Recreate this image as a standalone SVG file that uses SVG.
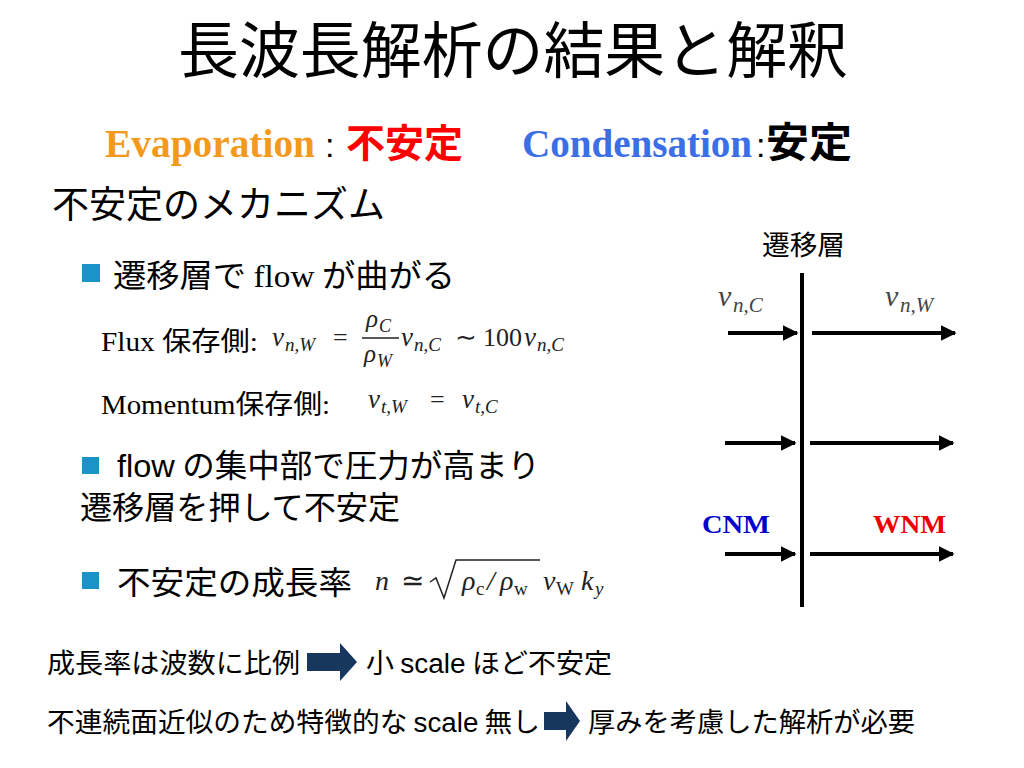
<svg xmlns="http://www.w3.org/2000/svg" width="1024" height="768" viewBox="0 0 1024 768">
<defs>
<style>
.jp{font-family:"Noto Sans CJK JP","Liberation Sans",sans-serif;fill:#000}
.sans{font-family:"Liberation Sans","Noto Sans CJK JP",sans-serif;fill:#000}
.ser{font-family:"Liberation Serif","Noto Sans CJK JP",serif;fill:#000}
.math{font-family:"Liberation Serif",serif;font-style:italic;fill:#222}
.mrm{font-family:"Liberation Serif",serif;font-style:normal;fill:#222}
.bul{fill:#1a94c8}
.ln{stroke:#000;stroke-width:4;fill:none}
.blk{fill:#17375e}
</style>
<marker id="ah" viewBox="0 0 10 10" refX="9" refY="5" markerWidth="4" markerHeight="4" orient="auto" markerUnits="strokeWidth">
<path d="M0,0 L10,5 L0,10 z" fill="#000"/>
</marker>
</defs>

<g id="title">
<text class="jp" x="178" y="73" font-size="61" textLength="670" lengthAdjust="spacingAndGlyphs">長波長解析の結果と解釈</text>
</g>

<g id="summary">
<text x="105" y="157" class="ser" font-size="40" font-weight="bold" style="fill:#f39a1e" textLength="210" lengthAdjust="spacingAndGlyphs">Evaporation</text>
<text x="325" y="157" class="sans" font-size="34">:</text>
<text x="346" y="157" class="jp" font-size="39" font-weight="bold" style="fill:#ff0000" textLength="117" lengthAdjust="spacingAndGlyphs">不安定</text>
<text x="522" y="157" class="ser" font-size="40" font-weight="bold" style="fill:#3c6ee6" textLength="230" lengthAdjust="spacingAndGlyphs">Condensation</text>
<text x="756" y="157" class="sans" font-size="34">:</text>
<text x="766" y="157" class="jp" font-size="41" font-weight="bold" textLength="86" lengthAdjust="spacingAndGlyphs">安定</text>
</g>

<g id="mechanism">
<text x="52" y="218" class="jp" font-size="37" textLength="333" lengthAdjust="spacingAndGlyphs">不安定のメカニズム</text>
</g>

<g id="bullet1">
<rect class="bul" x="82" y="264" width="18" height="18"/>
<text x="113" y="287" class="jp" font-size="32" textLength="342" lengthAdjust="spacingAndGlyphs">遷移層で <tspan class="ser">flow</tspan> が曲がる</text>
</g>

<g id="flux">
<text x="101" y="351" class="ser" font-size="27" textLength="157" lengthAdjust="spacingAndGlyphs">Flux 保存側:</text>
<text y="346" class="math" font-size="27"><tspan x="272">v</tspan><tspan x="285" dy="5" font-size="19">n,W</tspan></text>
<text x="333" y="346" class="mrm" font-size="26">=</text>
<text y="327" class="math" font-size="25"><tspan x="366">ρ</tspan><tspan x="379" dy="5" font-size="18">C</tspan></text>
<line x1="362" y1="338" x2="399" y2="338" stroke="#222" stroke-width="1.3"/>
<text y="362" class="math" font-size="25"><tspan x="364">ρ</tspan><tspan x="377" dy="5" font-size="18">W</tspan></text>
<text y="346" class="math" font-size="27"><tspan x="401">v</tspan><tspan x="414" dy="5" font-size="19">n,C</tspan></text>
<text x="455" y="346" class="mrm" font-size="26">∼</text>
<text x="483" y="346" class="mrm" font-size="26">100</text>
<text y="346" class="math" font-size="27"><tspan x="524">v</tspan><tspan x="537" dy="5" font-size="19">n,C</tspan></text>
</g>

<g id="momentum">
<text x="101" y="414" class="ser" font-size="27" textLength="229" lengthAdjust="spacingAndGlyphs">Momentum保存側:</text>
<text y="408" class="math" font-size="27"><tspan x="368">v</tspan><tspan x="381" dy="5" font-size="19">t,W</tspan></text>
<text x="430" y="408" class="mrm" font-size="26">=</text>
<text y="408" class="math" font-size="27"><tspan x="462">v</tspan><tspan x="475" dy="5" font-size="19">t,C</tspan></text>
</g>

<g id="bullet2">
<rect class="bul" x="82" y="457" width="17" height="17"/>
<text x="117" y="477" class="jp" font-size="32" textLength="423" lengthAdjust="spacingAndGlyphs"><tspan class="sans">flow</tspan> の集中部で圧力が高まり</text>
<text x="80" y="519" class="jp" font-size="32" textLength="320" lengthAdjust="spacingAndGlyphs">遷移層を押して不安定</text>
</g>

<g id="bullet3">
<rect class="bul" x="82" y="572" width="17" height="17"/>
<text x="117" y="594" class="jp" font-size="32" textLength="235" lengthAdjust="spacingAndGlyphs">不安定の成長率</text>
<text x="375" y="590" class="math" font-size="28">n</text>
<text x="401" y="590" class="mrm" font-size="28">≃</text>
<path d="M430,582 L436,578 L444,598 L456,560 L540,560" stroke="#222" stroke-width="1.5" fill="none"/>
<text y="590" class="math" font-size="28"><tspan x="462">ρ</tspan><tspan x="476" dy="5" class="mrm" font-size="19">c</tspan><tspan x="487" dy="-5">/</tspan><tspan x="500">ρ</tspan><tspan x="514" dy="5" class="mrm" font-size="19">w</tspan></text>
<text y="590" class="math" font-size="28"><tspan x="543">v</tspan><tspan x="556" dy="5" class="mrm" font-size="19">W</tspan></text>
<text y="590" class="math" font-size="28"><tspan x="581">k</tspan><tspan x="595" dy="5" font-size="19">y</tspan></text>
</g>

<g id="conclusion1">
<text x="47" y="673" class="jp" font-size="27" textLength="253" lengthAdjust="spacingAndGlyphs">成長率は波数に比例</text>
<path class="blk" d="M307,653 L340,653 L340,643 L357,662 L340,681 L340,671 L307,671 z"/>
<text x="366" y="673" class="jp" font-size="27" textLength="246" lengthAdjust="spacingAndGlyphs">小 <tspan class="sans">scale</tspan> ほど不安定</text>
</g>

<g id="conclusion2">
<text x="47" y="732" class="jp" font-size="27" textLength="493" lengthAdjust="spacingAndGlyphs">不連続面近似のため特徴的な <tspan class="sans">scale</tspan> 無し</text>
<path class="blk" d="M544,712 L566,712 L566,701 L580,721 L566,741 L566,730 L544,730 z"/>
<text x="588" y="732" class="jp" font-size="27" textLength="327" lengthAdjust="spacingAndGlyphs">厚みを考慮した解析が必要</text>
</g>

<g id="layer-diagram">
<text x="762" y="255" class="jp" font-size="27" textLength="83" lengthAdjust="spacingAndGlyphs">遷移層</text>
<line class="ln" x1="802" y1="273" x2="802" y2="607"/>
<text y="306" class="math" font-size="30" style="fill:#444"><tspan x="718">v</tspan><tspan x="733" dy="6" font-size="21">n,C</tspan></text>
<text y="306" class="math" font-size="30" style="fill:#444"><tspan x="885">v</tspan><tspan x="900" dy="6" font-size="21">n,W</tspan></text>
<text x="702" y="533" class="ser" font-size="26" font-weight="bold" style="fill:#0000cc" textLength="68" lengthAdjust="spacingAndGlyphs">CNM</text>
<text x="873" y="533" class="ser" font-size="26" font-weight="bold" style="fill:#ee0000" textLength="73" lengthAdjust="spacingAndGlyphs">WNM</text>
</g>

<g id="connectors">
<line class="ln" x1="728" y1="333" x2="797" y2="333" marker-end="url(#ah)"/>
<line class="ln" x1="812" y1="333" x2="955" y2="333" marker-end="url(#ah)"/>
<line class="ln" x1="725" y1="443" x2="795" y2="443" marker-end="url(#ah)"/>
<line class="ln" x1="810" y1="443" x2="953" y2="443" marker-end="url(#ah)"/>
<line class="ln" x1="725" y1="554" x2="795" y2="554" marker-end="url(#ah)"/>
<line class="ln" x1="810" y1="554" x2="953" y2="554" marker-end="url(#ah)"/>
</g>
</svg>
